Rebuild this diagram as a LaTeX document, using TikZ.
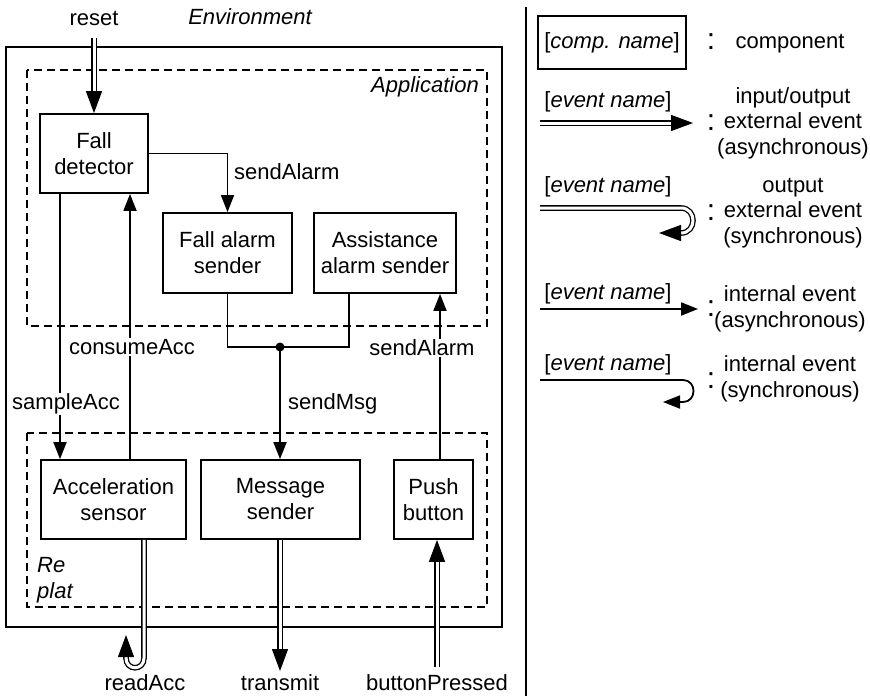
\documentclass[tikz,border=0pt]{standalone}
\usepackage{fontspec}
\setmainfont{Liberation Sans}
\usetikzlibrary{arrows.meta,calc}
\begin{document}
\begin{tikzpicture}[x=1pt,y=-1pt,
  every node/.style={font=\fontsize{22}{26}\selectfont, inner sep=0pt},
  comp/.style={draw, line width=1.8pt, align=center},
  it/.style={font=\fontsize{22}{26}\selectfont\itshape},
  ext/.style={double, double distance=3pt, line width=1.3pt, -{Triangle[length=22pt,width=16pt]}},
  int/.style={line width=1.8pt, -{Triangle[length=17pt,width=13pt]}},
  wire/.style={line width=1.8pt},
  dashbox/.style={line width=1.6pt, dash pattern=on 8pt off 5pt},
  lbl/.style={fill=white, inner sep=1pt},
  colon/.style={font=\fontsize{30}{30}\selectfont},
  multi/.style={align=center, font=\fontsize{22}{25.5}\selectfont},
]
\useasboundingbox (0,0) rectangle (870,696);

% containers
\draw[wire] (6,47) rectangle (502,627);
\draw[dashbox] (27,70) rectangle (487,326);
\draw[dashbox] (27,433) rectangle (487,607);
\node[it] (envl) at (250,17) {Environment};
\node[it] (appl) at (425,87) {Application};
\node[it, anchor=west] (re) at (37,565) {Re};
\node[it, anchor=west] (plat) at (37,593) {plat};

% components
\node[comp, minimum width=108pt, minimum height=79pt] (fd) at (94,153.5) {Fall\\detector};
\node[comp, minimum width=129pt, minimum height=80pt] (fas) at (227.5,253) {Fall alarm\\sender};
\node[comp, minimum width=142pt, minimum height=80pt] (aas) at (385,253) {Assistance\\alarm sender};
\node[comp, minimum width=145pt, minimum height=79pt] (acc) at (113.5,499.5) {Acceleration\\sensor};
\node[comp, minimum width=159pt, minimum height=79pt] (ms) at (280.5,499.5) {Message\\sender};
\node[comp, minimum width=79pt, minimum height=79pt] (pb) at (433.5,499.5) {Push\\button};

% helper coordinates
\coordinate (x60) at (60,0);
\coordinate (x130) at (130,0);
\coordinate (x144) at (144,0);
\coordinate (x349) at (349,0);
\coordinate (x440) at (440,0);
\coordinate (junc) at (280,347);
\coordinate (resetend) at (94,38);
\coordinate (readend) at (126,635);
\coordinate (transend) at (280,671);
\coordinate (bpstart) at (437,667);

% external labels
\node (reset) at (94,18) {reset};
\node (readacc) at (145,683) {readAcc};
\node (transmit) at (280,683) {transmit};
\node (bpress) at (437,683) {buttonPressed};

% connectors
\draw[ext] (resetend) -- (fd.north);
\draw[int] (fd.east) -| (fas.north);
\node[anchor=west] (sa1) at (234,172) {sendAlarm};
\draw[wire] (fas.south) |- (junc) -| (aas.south -| x349);
\fill (junc) circle (4.5pt);
\draw[int] (junc) -- (junc |- ms.north);
\node[anchor=west] (smsg) at (288,404) {sendMsg};
\draw[int] (pb.north -| x440) -- (aas.south -| x440);
\node[lbl] (sa2) at (422,348) {sendAlarm};
\draw[int] (fd.south -| x60) -- (acc.north -| x60);
\node[lbl] (sacc) at (66,404) {sampleAcc};
\draw[int] (acc.north -| x130) -- (fd.south -| x130);
\node[lbl] (cacc) at (132,347) {consumeAcc};
\draw[ext] (acc.south -| x144) -- (144,658) .. controls (144,671) and (126,671) .. (126,658) -- (readend);
\draw[ext] (ms.south -| transend) -- (transend);
\draw[ext] (bpstart) -- (pb.south -| bpstart);

% separator
\draw[line width=2pt] (526,7) -- (526,696);

% legend
\node[comp, minimum width=148pt, minimum height=53pt] (lcomp) at (612,42.5) {[\textit{comp. name}]};
\node[colon] (c1) at (711,42) {:};
\node (t1) at (790,44) {component};

\node (e2) at (608,102) {[\textit{event name}]};
\coordinate (l2s) at (540,123);
\coordinate (l2e) at (693,123);
\draw[ext] (l2s) -- (l2e);
\node[colon] (c2) at (711,123) {:};
\node[multi] (t2) at (793,123) {input/output\\external event\\(asynchronous)};

\node (e3) at (608,187) {[\textit{event name}]};
\coordinate (l3s) at (540,208);
\coordinate (l3e) at (659,233);
\draw[ext] (l3s) -- (681,208) .. controls (697,208) and (697,233) .. (681,233) -- (l3e);
\node[colon] (c3) at (711,213) {:};
\node[multi] (t3) at (793,213) {output\\external event\\(synchronous)};

\node (e4) at (608,294) {[\textit{event name}]};
\coordinate (l4s) at (540,309);
\coordinate (l4e) at (698,309);
\draw[int] (l4s) -- (l4e);
\node[colon] (c4) at (711,309) {:};
\node[multi] (t4) at (790,309) {internal event\\(asynchronous)};

\node (e5) at (608,365) {[\textit{event name}]};
\coordinate (l5s) at (540,380);
\coordinate (l5e) at (663,402);
\draw[int] (l5s) -- (683,380) .. controls (697,380) and (697,402) .. (683,402) -- (l5e);
\node[colon] (c5) at (711,381) {:};
\node[multi] (t5) at (790,379) {internal event\\(synchronous)};
\end{tikzpicture}
\end{document}
